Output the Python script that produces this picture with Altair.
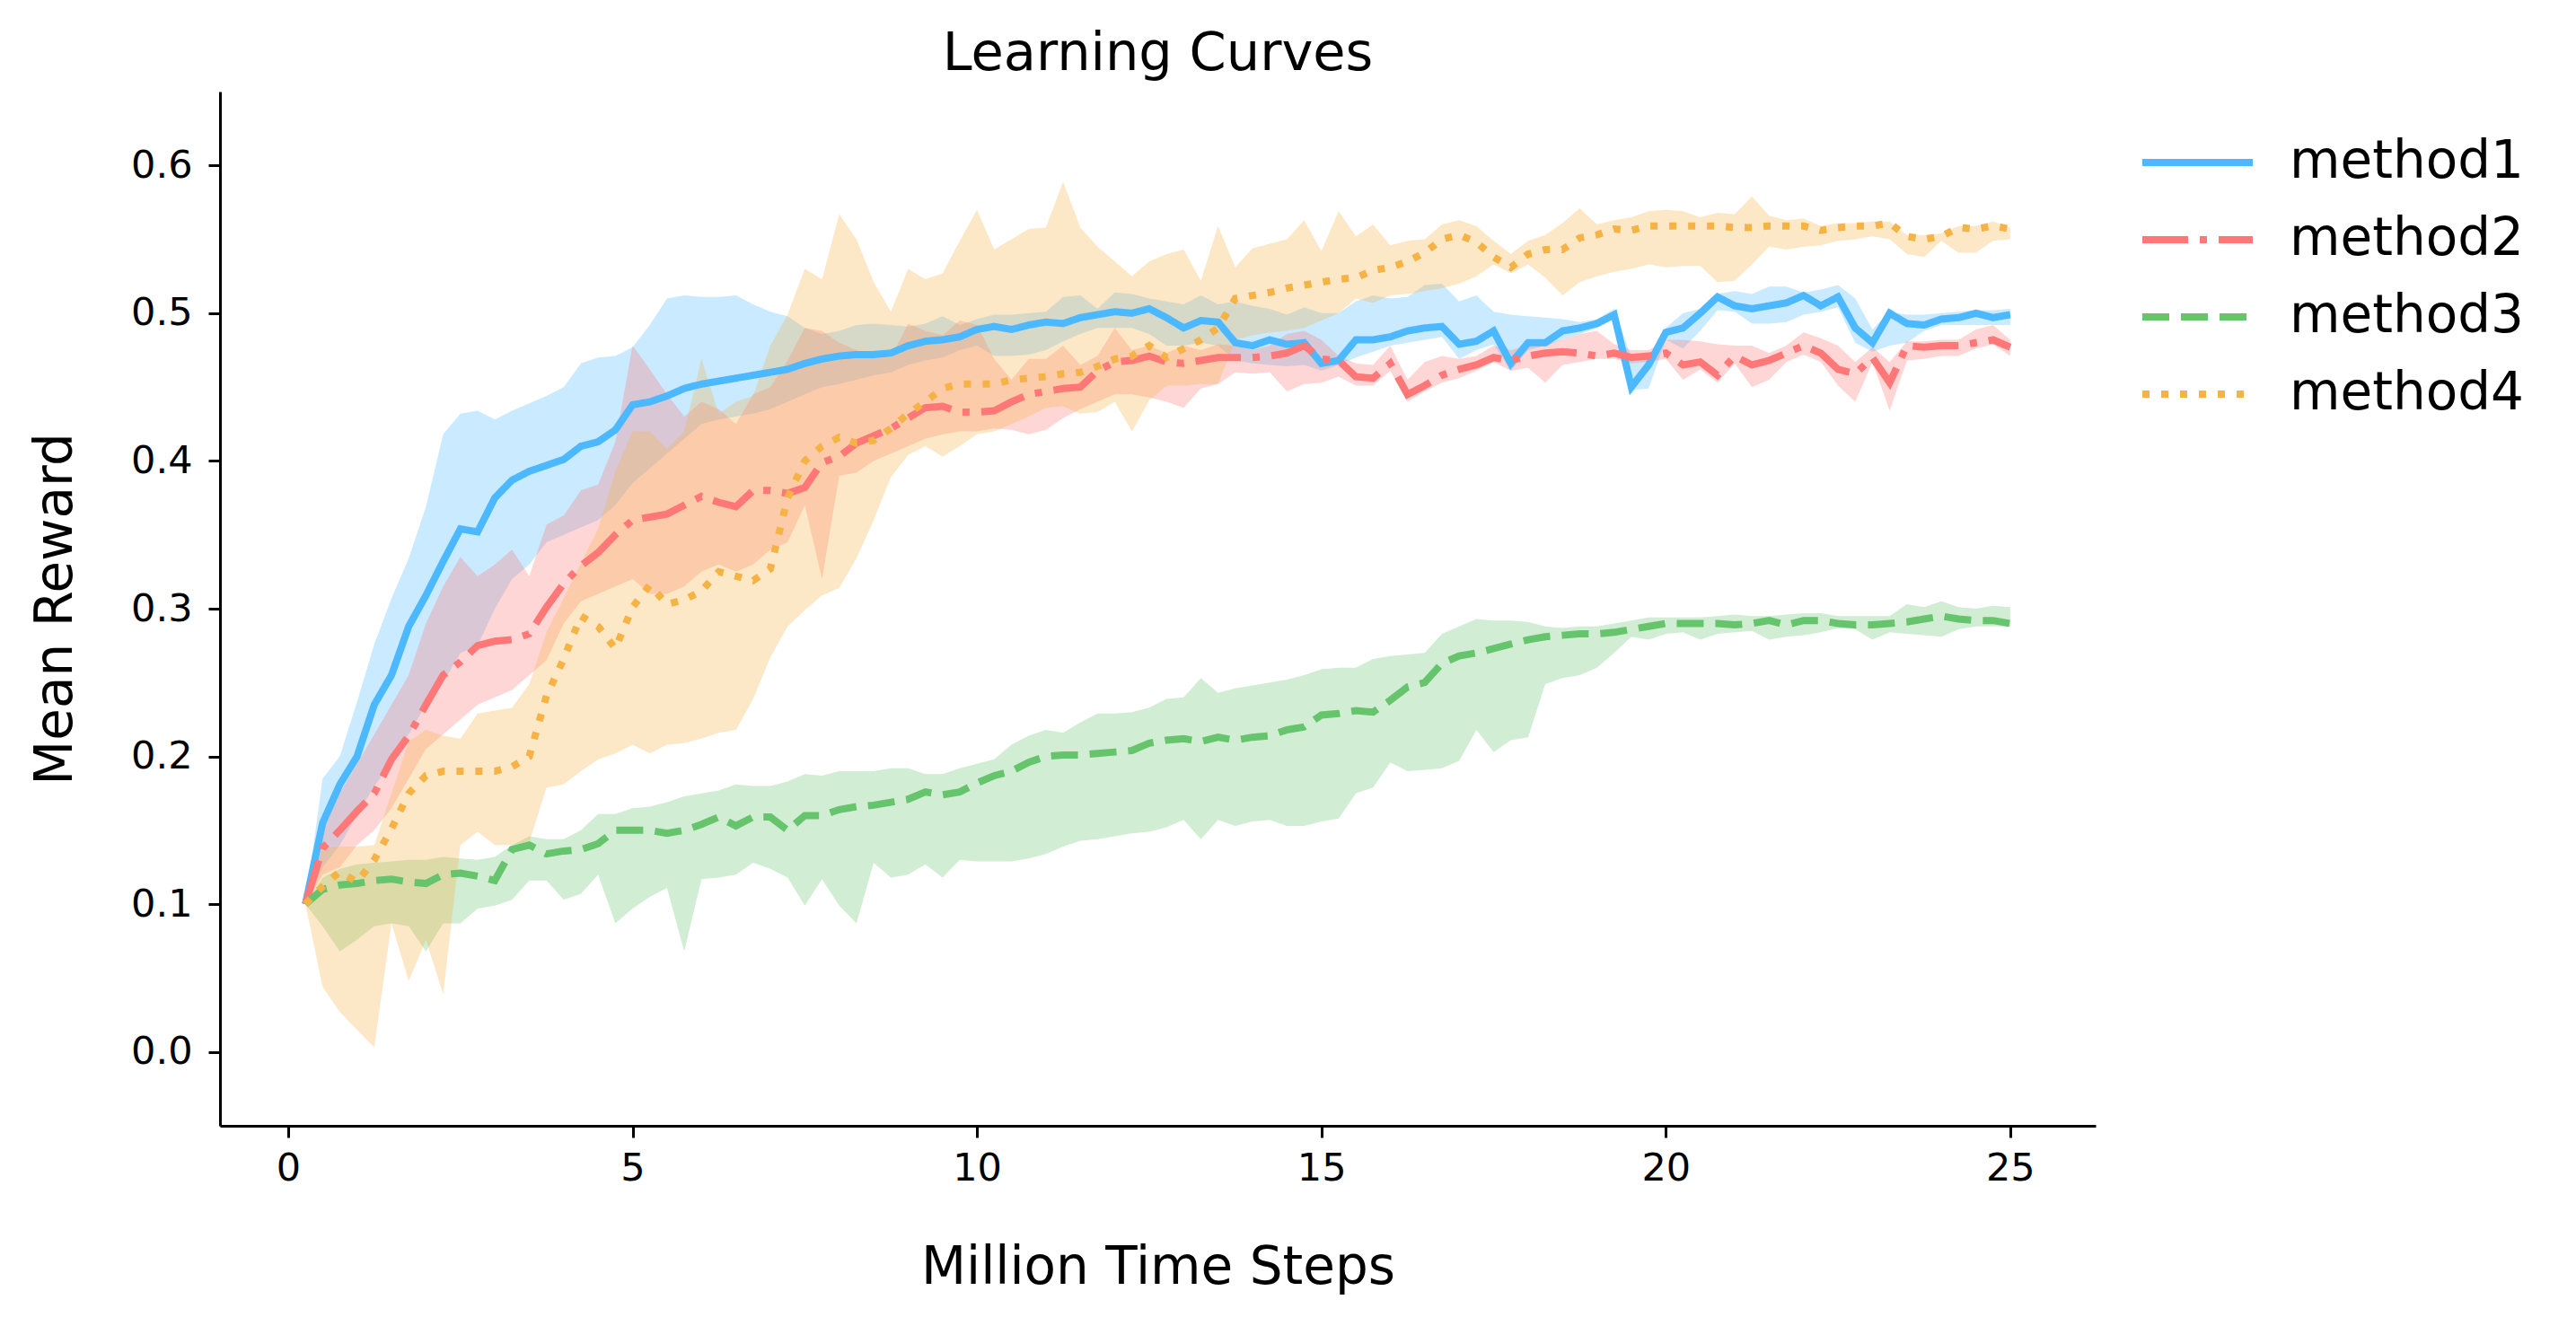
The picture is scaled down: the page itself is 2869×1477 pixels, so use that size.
import altair as alt
import numpy as np
import pandas as pd

methods = ["method1", "method2", "method3", "method4"]
colors = ["#4CB8FF", "#FF7777", "#66C46C", "#F5B245"]
dashes = [[1, 0], [51, 13, 8, 13], [30, 13], [8, 13]]

# time axis: 0.25 .. 25 million steps
steps = np.round(np.arange(1, 101) * 0.25, 2)

m1_mean = [0.100,0.155,0.181,0.200,0.235,0.255,0.288,0.309,0.332,0.354,
           0.352,0.375,0.387,0.393,0.397,0.401,0.410,0.413,0.421,0.438,
           0.440,0.444,0.449,0.452,0.454,0.456,0.458,0.460,0.462,0.466,
           0.469,0.471,0.472,0.472,0.473,0.478,0.481,0.482,0.484,0.489,
           0.491,0.489,0.492,0.494,0.493,0.497,0.499,0.501,0.500,0.503,
           0.497,0.490,0.495,0.494,0.480,0.478,0.482,0.479,0.480,0.466,
           0.468,0.482,0.482,0.484,0.488,0.490,0.491,0.479,0.481,0.488,
           0.466,0.480,0.480,0.488,0.490,0.493,0.499,0.450,0.465,0.487,
           0.490,0.500,0.511,0.505,0.503,0.505,0.507,0.512,0.505,0.511,
           0.490,0.480,0.500,0.493,0.492,0.496,0.497,0.500,0.497,0.499]
m1_hi = [0.100,0.185,0.200,0.237,0.276,0.307,0.334,0.369,0.418,0.432,
         0.434,0.428,0.434,0.439,0.444,0.450,0.466,0.470,0.471,0.477,
         0.492,0.510,0.512,0.511,0.511,0.512,0.506,0.501,0.498,0.490,
         0.486,0.488,0.492,0.493,0.492,0.491,0.493,0.498,0.492,0.496,
         0.499,0.499,0.500,0.501,0.511,0.512,0.503,0.514,0.513,0.510,
         0.508,0.506,0.512,0.506,0.508,0.505,0.503,0.499,0.504,0.500,
         0.500,0.508,0.512,0.510,0.511,0.519,0.520,0.508,0.512,0.501,
         0.499,0.498,0.497,0.496,0.494,0.496,0.503,0.470,0.470,0.490,
         0.500,0.503,0.513,0.515,0.513,0.518,0.518,0.514,0.516,0.519,
         0.510,0.489,0.501,0.499,0.499,0.500,0.501,0.502,0.502,0.503]
m1_lo = [0.100,0.125,0.140,0.160,0.180,0.195,0.215,0.235,0.250,0.270,
         0.275,0.300,0.320,0.330,0.345,0.350,0.355,0.360,0.370,0.385,
         0.395,0.405,0.415,0.425,0.428,0.430,0.432,0.435,0.440,0.445,
         0.450,0.452,0.455,0.458,0.460,0.465,0.468,0.470,0.475,0.478,
         0.471,0.471,0.472,0.475,0.481,0.486,0.490,0.490,0.490,0.486,
         0.478,0.478,0.480,0.478,0.468,0.466,0.465,0.464,0.465,0.461,
         0.465,0.470,0.474,0.478,0.480,0.482,0.484,0.469,0.475,0.479,
         0.461,0.475,0.478,0.482,0.486,0.490,0.496,0.448,0.449,0.482,
         0.476,0.488,0.502,0.501,0.493,0.493,0.494,0.499,0.501,0.504,
         0.480,0.474,0.478,0.480,0.488,0.492,0.492,0.492,0.492,0.492]

m2_mean = [0.100,0.138,0.150,0.163,0.175,0.198,0.214,0.235,0.255,0.264,
           0.275,0.278,0.279,0.283,0.301,0.317,0.329,0.338,0.350,0.360,
           0.362,0.364,0.370,0.376,0.372,0.369,0.380,0.380,0.378,0.382,
           0.399,0.403,0.412,0.417,0.422,0.429,0.436,0.437,0.433,0.433,
           0.434,0.440,0.445,0.447,0.449,0.450,0.461,0.467,0.468,0.471,
           0.467,0.466,0.468,0.470,0.470,0.470,0.471,0.473,0.478,0.469,
           0.468,0.457,0.456,0.466,0.445,0.451,0.458,0.462,0.465,0.470,
           0.468,0.471,0.473,0.474,0.473,0.471,0.473,0.470,0.471,0.473,
           0.465,0.467,0.458,0.471,0.465,0.468,0.473,0.478,0.473,0.462,
           0.459,0.470,0.453,0.478,0.477,0.478,0.478,0.480,0.482,0.477]
m2_hi = [0.100,0.150,0.175,0.195,0.215,0.235,0.255,0.290,0.315,0.335,
         0.322,0.330,0.340,0.322,0.357,0.363,0.380,0.384,0.413,0.478,
         0.462,0.445,0.430,0.440,0.435,0.425,0.445,0.450,0.468,0.490,
         0.488,0.480,0.475,0.470,0.470,0.493,0.488,0.485,0.495,0.492,
         0.469,0.455,0.469,0.469,0.478,0.465,0.471,0.490,0.475,0.478,
         0.473,0.478,0.475,0.479,0.478,0.475,0.478,0.486,0.488,0.482,
         0.471,0.466,0.465,0.478,0.455,0.467,0.471,0.469,0.471,0.478,
         0.475,0.478,0.479,0.482,0.486,0.488,0.479,0.475,0.475,0.482,
         0.482,0.481,0.479,0.478,0.478,0.473,0.478,0.487,0.483,0.478,
         0.467,0.477,0.467,0.481,0.481,0.482,0.482,0.489,0.492,0.482]
m2_lo = [0.100,0.120,0.125,0.140,0.150,0.165,0.185,0.205,0.215,0.225,
         0.235,0.240,0.245,0.255,0.265,0.290,0.305,0.310,0.315,0.320,
         0.310,0.310,0.315,0.325,0.330,0.325,0.330,0.340,0.345,0.370,
         0.320,0.390,0.392,0.400,0.405,0.410,0.415,0.418,0.420,0.420,
         0.422,0.421,0.418,0.421,0.429,0.435,0.440,0.445,0.445,0.443,
         0.440,0.436,0.449,0.452,0.460,0.459,0.460,0.447,0.452,0.453,
         0.457,0.451,0.451,0.461,0.440,0.447,0.453,0.456,0.461,0.467,
         0.461,0.463,0.453,0.465,0.467,0.469,0.469,0.466,0.467,0.469,
         0.455,0.462,0.453,0.466,0.450,0.455,0.467,0.472,0.467,0.451,
         0.440,0.467,0.434,0.468,0.469,0.471,0.471,0.476,0.479,0.471]

m3_mean = [0.100,0.110,0.113,0.114,0.116,0.117,0.115,0.114,0.120,0.121,
           0.119,0.116,0.137,0.140,0.134,0.136,0.137,0.141,0.150,0.150,
           0.150,0.148,0.150,0.154,0.159,0.153,0.159,0.159,0.150,0.160,
           0.160,0.164,0.166,0.167,0.169,0.171,0.176,0.174,0.176,0.182,
           0.187,0.190,0.196,0.200,0.201,0.201,0.202,0.203,0.204,0.209,
           0.211,0.212,0.210,0.213,0.211,0.213,0.214,0.218,0.220,0.228,
           0.229,0.231,0.230,0.238,0.247,0.250,0.263,0.268,0.270,0.273,
           0.276,0.279,0.281,0.282,0.283,0.283,0.284,0.286,0.288,0.290,
           0.290,0.290,0.290,0.289,0.290,0.292,0.289,0.292,0.292,0.290,
           0.289,0.289,0.290,0.291,0.293,0.295,0.293,0.292,0.292,0.290]
m3_hi = [0.100,0.118,0.124,0.127,0.128,0.129,0.130,0.130,0.132,0.131,
         0.130,0.132,0.140,0.146,0.144,0.144,0.150,0.161,0.161,0.165,
         0.166,0.169,0.173,0.175,0.177,0.181,0.180,0.180,0.183,0.188,
         0.187,0.190,0.190,0.190,0.192,0.192,0.188,0.188,0.192,0.195,
         0.198,0.208,0.214,0.218,0.216,0.223,0.229,0.229,0.230,0.233,
         0.239,0.240,0.253,0.243,0.246,0.248,0.250,0.252,0.255,0.259,
         0.260,0.260,0.266,0.268,0.269,0.270,0.283,0.288,0.293,0.292,
         0.292,0.291,0.288,0.287,0.288,0.288,0.290,0.292,0.294,0.294,
         0.294,0.294,0.295,0.296,0.295,0.295,0.296,0.297,0.297,0.295,
         0.295,0.295,0.295,0.303,0.301,0.305,0.301,0.300,0.302,0.301]
m3_lo = [0.100,0.085,0.068,0.076,0.085,0.087,0.085,0.068,0.087,0.087,
         0.097,0.099,0.103,0.116,0.116,0.103,0.107,0.120,0.087,0.097,
         0.105,0.111,0.068,0.117,0.118,0.120,0.128,0.124,0.118,0.099,
         0.117,0.099,0.087,0.128,0.118,0.120,0.127,0.118,0.130,0.129,
         0.129,0.129,0.131,0.134,0.139,0.143,0.144,0.146,0.148,0.149,
         0.152,0.157,0.144,0.157,0.153,0.156,0.157,0.153,0.153,0.156,
         0.158,0.175,0.179,0.196,0.190,0.191,0.192,0.197,0.218,0.203,
         0.211,0.213,0.249,0.253,0.255,0.260,0.270,0.281,0.279,0.283,
         0.284,0.279,0.283,0.284,0.285,0.279,0.281,0.282,0.284,0.287,
         0.286,0.279,0.284,0.283,0.282,0.281,0.286,0.288,0.288,0.288]

m4_mean = [0.100,0.112,0.122,0.115,0.130,0.151,0.175,0.187,0.190,0.190,
           0.190,0.190,0.193,0.200,0.241,0.266,0.295,0.288,0.273,0.301,
           0.316,0.303,0.306,0.312,0.325,0.322,0.319,0.327,0.375,0.400,
           0.410,0.416,0.412,0.414,0.422,0.432,0.440,0.449,0.452,0.452,
           0.452,0.455,0.456,0.457,0.459,0.460,0.464,0.469,0.471,0.478,
           0.470,0.476,0.482,0.490,0.510,0.512,0.514,0.517,0.519,0.521,
           0.523,0.524,0.529,0.531,0.535,0.541,0.550,0.553,0.548,0.538,
           0.531,0.540,0.543,0.543,0.551,0.553,0.557,0.556,0.559,0.559,
           0.559,0.559,0.559,0.558,0.558,0.559,0.559,0.559,0.556,0.558,
           0.559,0.559,0.561,0.552,0.550,0.552,0.558,0.557,0.559,0.557]
m4_hi = [0.100,0.138,0.139,0.139,0.140,0.175,0.210,0.218,0.214,0.212,
         0.229,0.231,0.233,0.249,0.284,0.307,0.331,0.354,0.393,0.420,
         0.420,0.408,0.420,0.469,0.432,0.440,0.444,0.478,0.499,0.530,
         0.523,0.567,0.550,0.521,0.501,0.530,0.523,0.527,0.549,0.570,
         0.543,0.550,0.557,0.558,0.589,0.558,0.545,0.535,0.525,0.535,
         0.540,0.543,0.522,0.559,0.531,0.544,0.547,0.550,0.563,0.542,
         0.569,0.552,0.560,0.546,0.549,0.550,0.560,0.563,0.559,0.549,
         0.540,0.549,0.553,0.561,0.571,0.560,0.563,0.565,0.569,0.570,
         0.569,0.565,0.568,0.567,0.579,0.566,0.563,0.564,0.559,0.561,
         0.561,0.562,0.562,0.553,0.553,0.554,0.559,0.559,0.562,0.558]
m4_lo = [0.100,0.044,0.027,0.015,0.003,0.087,0.048,0.076,0.039,0.140,
         0.149,0.140,0.140,0.142,0.179,0.181,0.190,0.198,0.202,0.208,
         0.202,0.208,0.209,0.212,0.216,0.218,0.239,0.267,0.288,0.299,
         0.309,0.314,0.334,0.360,0.389,0.404,0.410,0.403,0.410,0.418,
         0.420,0.425,0.430,0.436,0.437,0.432,0.433,0.440,0.420,0.441,
         0.451,0.451,0.452,0.452,0.482,0.485,0.487,0.488,0.490,0.495,
         0.500,0.510,0.507,0.512,0.513,0.515,0.517,0.520,0.525,0.533,
         0.527,0.533,0.524,0.512,0.521,0.525,0.528,0.530,0.533,0.531,
         0.532,0.532,0.521,0.522,0.533,0.545,0.543,0.545,0.546,0.549,
         0.550,0.552,0.550,0.540,0.538,0.549,0.541,0.541,0.549,0.550]

series = [
    ("method1", m1_mean, m1_lo, m1_hi),
    ("method2", m2_mean, m2_lo, m2_hi),
    ("method3", m3_mean, m3_lo, m3_hi),
    ("method4", m4_mean, m4_lo, m4_hi),
]
rows = []
for name, mean, lo, hi in series:
    for s, m, l, h in zip(steps, mean, lo, hi):
        rows.append({"step": float(s), "method": name, "band": name,
                     "mean": m, "lo": l, "hi": h})
df = pd.DataFrame(rows)

FONT = "DejaVu Sans"
xscale = alt.Scale(domain=[-0.99, 26.24], nice=False, zero=False)
yscale = alt.Scale(domain=[-0.05, 0.65], nice=False, zero=False)
xaxis = alt.Axis(values=[0, 5, 10, 15, 20, 25], format="d", title="Million Time Steps",
                 titlePadding=60, labelPadding=13)
yaxis = alt.Axis(values=[0.0, 0.1, 0.2, 0.3, 0.4, 0.5, 0.6], format=".1f", title="Mean Reward",
                 titlePadding=54, labelPadding=18)

legend = alt.Legend(title=None, orient="none", legendX=2137, legendY=36,
                    symbolType="stroke", symbolSize=15129, symbolStrokeWidth=8,
                    labelFontSize=58, labelFont=FONT, labelColor="black", labelLimit=0,
                    labelOffset=37, rowPadding=0, clipHeight=86, padding=0, symbolOpacity=1)

base = alt.Chart(df)
area = base.mark_area(fillOpacity=0.3, strokeWidth=0).encode(
    x=alt.X("step:Q", scale=xscale, axis=xaxis),
    y=alt.Y("lo:Q", scale=yscale, axis=yaxis),
    y2="hi:Q",
    fill=alt.Fill("band:N", scale=alt.Scale(domain=methods, range=colors), legend=None),
)
line = base.mark_line(strokeWidth=8, strokeCap="butt").encode(
    x=alt.X("step:Q", scale=xscale, axis=xaxis),
    y=alt.Y("mean:Q", scale=yscale, axis=yaxis),
    color=alt.Color("method:N", scale=alt.Scale(domain=methods, range=colors), legend=legend),
    strokeDash=alt.StrokeDash("method:N", scale=alt.Scale(domain=methods, range=dashes), legend=legend),
)

chart = alt.layer(area, line).resolve_legend(
    color="independent", strokeDash="independent", fill="independent"
).properties(
    width=2089, height=1152,
    autosize=alt.AutoSizeParams(type="none"),
    padding={"left": 237, "top": 94, "right": 500, "bottom": 200},
    title=alt.TitleParams("Learning Curves", fontSize=59, font=FONT, fontWeight="normal",
                          color="black", anchor="middle", offset=12),
).configure_view(stroke=None).configure_axis(
    domainColor="black", domainWidth=3, tickColor="black", tickWidth=3, tickSize=13,
    labelFontSize=43, labelFont=FONT, labelColor="black",
    titleFontSize=58, titleFont=FONT, titleFontWeight="normal", titleColor="black",
    grid=False,
)

chart.save("out.html", embed_options={"renderer": "svg", "actions": False})
